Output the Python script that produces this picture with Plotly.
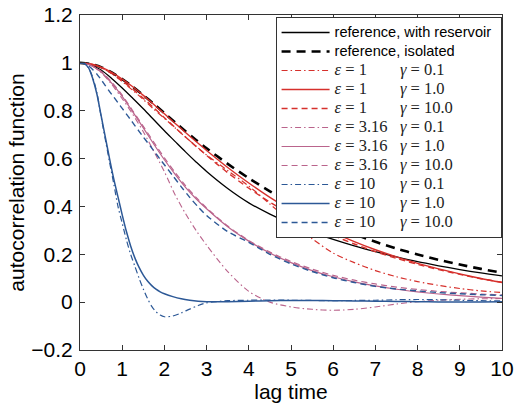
import plotly.graph_objects as go

# ---------------- data ----------------
t = [0, 0.25, 0.5, 0.75, 1, 1.25, 1.5, 1.75, 2, 2.25, 2.5, 2.75, 3, 3.5, 4,
     4.5, 5, 5.5, 6, 6.5, 7, 7.5, 8, 8.5, 9, 9.5, 10]

t_fast = [0, 0.1, 0.2, 0.3, 0.4, 0.5, 0.6, 0.7, 0.8, 0.9, 1.0, 1.1, 1.2, 1.3,
          1.4, 1.5, 1.6, 1.7, 1.8, 1.9, 2.0, 2.2, 2.4, 2.6, 2.8, 3.0, 3.5, 4,
          4.5, 5, 5.5, 6, 6.5, 7, 7.5, 8, 8.5, 9, 9.5, 10]

ref_reservoir = [1, 0.992, 0.97, 0.935, 0.895, 0.852, 0.808, 0.762, 0.716, 0.672,
                 0.628, 0.586, 0.546, 0.475, 0.415, 0.368, 0.328, 0.293, 0.262,
                 0.235, 0.211, 0.189, 0.169, 0.152, 0.136, 0.122, 0.11]
ref_isolated = [1, 0.995, 0.982, 0.96, 0.932, 0.9, 0.865, 0.828, 0.79, 0.752,
                0.714, 0.678, 0.643, 0.578, 0.518, 0.463, 0.413, 0.366, 0.32,
                0.285, 0.252, 0.224, 0.199, 0.177, 0.157, 0.139, 0.123]

e1_g01 = [1, 0.995, 0.98, 0.955, 0.922, 0.885, 0.847, 0.806, 0.768, 0.729,
          0.69, 0.652, 0.615, 0.55, 0.485, 0.41, 0.335, 0.265, 0.205, 0.165,
          0.132, 0.106, 0.086, 0.07, 0.057, 0.047, 0.04]
e1_g1 = [1, 0.995, 0.982, 0.96, 0.932, 0.9, 0.864, 0.826, 0.787, 0.748, 0.709,
         0.671, 0.634, 0.563, 0.498, 0.438, 0.384, 0.335, 0.292, 0.253, 0.219,
         0.189, 0.162, 0.139, 0.118, 0.099, 0.082]
e1_g10 = [1, 0.995, 0.98, 0.956, 0.925, 0.89, 0.852, 0.812, 0.771, 0.73, 0.69,
          0.651, 0.613, 0.541, 0.476, 0.418, 0.366, 0.32, 0.279, 0.243, 0.211,
          0.183, 0.158, 0.136, 0.116, 0.098, 0.083]

e316_g01 = [1, 0.99, 0.96, 0.91, 0.85, 0.785, 0.712, 0.63, 0.545, 0.45, 0.37,
            0.3, 0.238, 0.128, 0.045, 0.0, -0.02, -0.03, -0.034, -0.03, -0.02,
            -0.008, 0.002, 0.008, 0.012, 0.014, 0.015]
e316_g1 = [1, 0.99, 0.962, 0.915, 0.86, 0.795, 0.728, 0.66, 0.595, 0.535, 0.48,
           0.432, 0.39, 0.315, 0.255, 0.205, 0.165, 0.132, 0.106, 0.085, 0.068,
           0.054, 0.043, 0.034, 0.027, 0.021, 0.016]
e316_g10 = [1, 0.99, 0.965, 0.92, 0.865, 0.8, 0.735, 0.668, 0.603, 0.543, 0.487,
            0.438, 0.394, 0.318, 0.258, 0.209, 0.17, 0.138, 0.112, 0.092, 0.076,
            0.063, 0.053, 0.045, 0.039, 0.034, 0.03]

e10_g01 = [1, 0.997, 0.98, 0.94, 0.875, 0.775, 0.68, 0.585, 0.495, 0.4, 0.33,
           0.26, 0.2, 0.15, 0.1, 0.055, 0.015, -0.018, -0.04, -0.054, -0.061,
           -0.058, -0.045, -0.029, -0.014, -0.003, 0.006, 0.008, 0.009, 0.008,
           0.007, 0.006, 0.007, 0.008, 0.01, 0.011, 0.01, 0.008, 0.006, 0.005]
e10_g1 = [1, 0.997, 0.98, 0.935, 0.87, 0.78, 0.69, 0.6, 0.515, 0.44, 0.365,
          0.295, 0.235, 0.185, 0.145, 0.113, 0.088, 0.069, 0.054, 0.043, 0.035,
          0.023, 0.014, 0.008, 0.004, 0.002, 0.002, 0.004, 0.006, 0.007, 0.007,
          0.006, 0.005, 0.004, 0.003, 0.002, 0.001, 0.001, 0.001, 0.002]
e10_g10 = [1, 0.997, 0.988, 0.972, 0.953, 0.93, 0.905, 0.88, 0.857, 0.833, 0.81,
           0.786, 0.762, 0.738, 0.714, 0.69, 0.667, 0.644, 0.62, 0.597, 0.574,
           0.528, 0.482, 0.438, 0.398, 0.362, 0.295, 0.25, 0.2, 0.16, 0.128,
           0.102, 0.082, 0.066, 0.055, 0.047, 0.04, 0.035, 0.031, 0.028]

x_ticks = [0, 1, 2, 3, 4, 5, 6, 7, 8, 9, 10]
y_ticks = [-0.2, 0, 0.2, 0.4, 0.6, 0.8, 1, 1.2]

# ---------------- styling ----------------
RED = "rgb(214,48,44)"
PINK = "rgb(186,100,140)"
BLUE = "rgb(44,88,150)"
DASH = "6px,4px"
DASHDOT = "6px,3px,1.5px,3px"

SANS = "Liberation Sans, Arial, sans-serif"
SERIF = "Liberation Serif"
NB = "\u00a0"


def math_name(eps, gam, pad):
    return ('<span style="font-family:%s;font-size:16.5px;fill:#222">'
            '<i>ε</i> = %s%s<i>γ</i> = %s</span>' % (SERIF, eps, NB * pad, gam))


def sans_name(s):
    return '<span style="font-size:14.6px">%s</span>' % s


series = [
    (t, ref_reservoir, sans_name("reference, with reservoir" + NB), "black", "solid", 1.3),
    (t, ref_isolated, sans_name("reference, isolated"), "black", "9px,6px", 2.6),
    (t, e1_g01, math_name("1", "0.1", 8), RED, DASHDOT, 1.2),
    (t, e1_g1, math_name("1", "1.0", 8), RED, "solid", 1.4),
    (t, e1_g10, math_name("1", "10.0", 8), RED, DASH, 1.4),
    (t, e316_g01, math_name("3.16", "0.1", 3), PINK, DASHDOT, 1.1),
    (t, e316_g1, math_name("3.16", "1.0", 3), PINK, "solid", 1.2),
    (t, e316_g10, math_name("3.16", "10.0", 3), PINK, DASH, 1.2),
    (t_fast, e10_g01, math_name("10", "0.1", 6), BLUE, DASHDOT, 1.2),
    (t_fast, e10_g1, math_name("10", "1.0", 6), BLUE, "solid", 1.5),
    (t_fast, e10_g10, math_name("10", "10.0", 6), BLUE, DASH, 1.4),
]

fig = go.Figure()
for xs, ys, name, color, dash, width in series:
    fig.add_trace(go.Scatter(
        x=xs, y=ys, name=name, mode="lines",
        line=dict(color=color, dash=dash, width=width, shape="spline", smoothing=0.8),
    ))

axis_common = dict(
    showgrid=False, zeroline=False, showline=True, linecolor="#333", linewidth=1,
    mirror="ticks", ticks="inside", ticklen=5, tickcolor="#333", automargin=False,
    tickfont=dict(family=SANS, size=21, color="black"),
    title_font=dict(family=SANS, size=21, color="black"),
)

fig.update_layout(
    width=518, height=403,
    margin=dict(l=80, r=16, t=15, b=53),
    paper_bgcolor="white", plot_bgcolor="white",
    font=dict(family=SANS, color="black"),
    xaxis=dict(range=[0, 10], tickvals=x_ticks, title=dict(text="lag time", standoff=2),
               **axis_common),
    yaxis=dict(range=[-0.2, 1.2], tickvals=y_ticks, ticklabelstandoff=2,
               title=dict(text="autocorrelation function", standoff=0), **axis_common),
    legend=dict(
        x=0.999, xanchor="right", y=0.994, yanchor="top",
        bgcolor="white", bordercolor="#333", borderwidth=1,
        font=dict(family=SANS, size=12.3, color="black"),
        itemwidth=48, tracegroupgap=0,
    ),
    showlegend=True,
)

fig.write_html("out.html", config={"displayModeBar": False},
               post_script="document.body.style.margin='0';")
